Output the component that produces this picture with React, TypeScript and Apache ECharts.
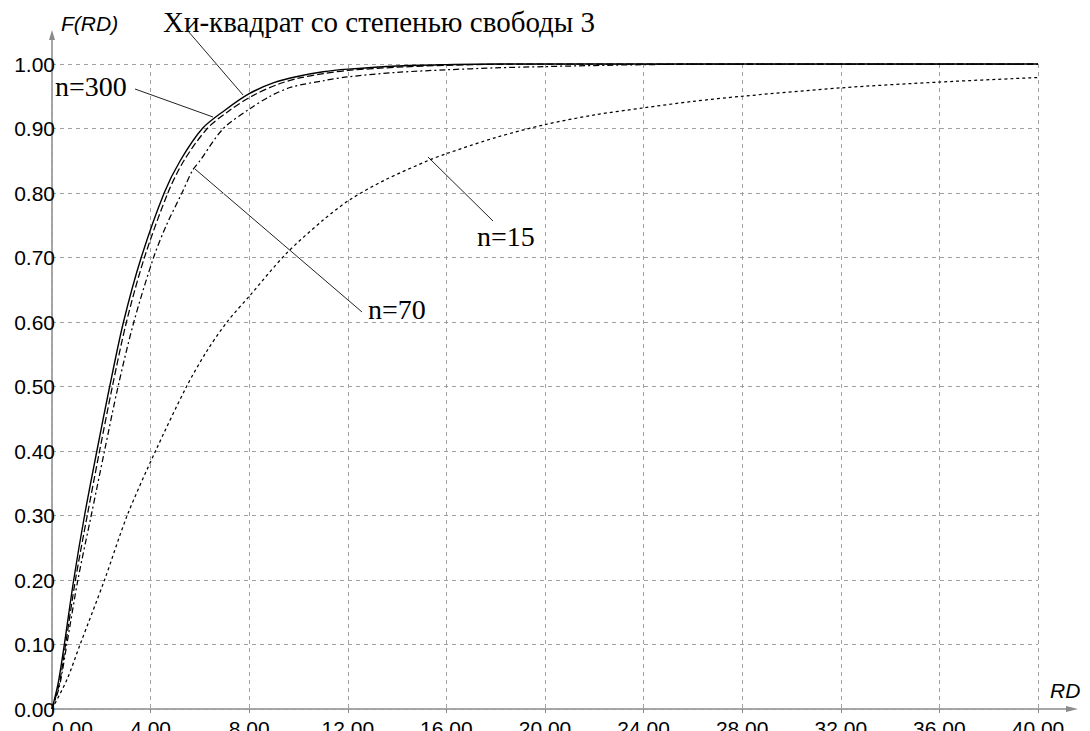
import React, { useEffect, useRef } from "react";
import * as echarts from "echarts";

// RD values and F(RD)
const chiSquare3: [number, number][] = [
  [0, 0], [0.25, 0.04], [0.5, 0.1], [0.88, 0.2], [1.32, 0.3], [1.82, 0.4], [2.34, 0.5],
  [2.9, 0.6], [3.62, 0.7], [4.55, 0.8], [5.2, 0.85], [6.1, 0.9], [7.0, 0.928], [8.0, 0.954],
  [9.0, 0.971], [10.0, 0.981], [11.0, 0.988], [12.0, 0.992], [14.0, 0.997], [16.0, 0.999],
  [18.0, 1.0], [40.0, 1.0],
];
const n300: [number, number][] = [
  [0, 0], [0.3, 0.04], [0.55, 0.1], [0.95, 0.2], [1.43, 0.3], [1.93, 0.4], [2.45, 0.5],
  [3.02, 0.6], [3.75, 0.7], [4.7, 0.8], [5.35, 0.85], [6.3, 0.9], [7.2, 0.928], [8.2, 0.952],
  [9.2, 0.969], [10.0, 0.978], [11.0, 0.985], [12.0, 0.99], [14.0, 0.995], [16.0, 0.998],
  [18.0, 0.9995], [20.0, 1.0], [40.0, 1.0],
];
const n70: [number, number][] = [
  [0, 0], [0.3, 0.035], [0.6, 0.1], [1.05, 0.2], [1.59, 0.3], [2.13, 0.4], [2.68, 0.5],
  [3.32, 0.6], [4.12, 0.7], [4.64, 0.75], [5.27, 0.8], [5.7, 0.835], [6.0, 0.85],
  [6.95, 0.9], [8.0, 0.93], [8.85, 0.95], [9.7, 0.964], [11.0, 0.974], [12.0, 0.98],
  [14.0, 0.987], [16.0, 0.991], [18.0, 0.994], [20.0, 0.996], [24.0, 0.999], [28.0, 1.0],
  [40.0, 1.0],
];
const n15: [number, number][] = [
  [0, 0], [0.6, 0.045], [1.14, 0.1], [2.13, 0.2], [3.05, 0.3], [4.2, 0.4], [5.46, 0.5],
  [6.25, 0.553], [7.1, 0.6], [8.05, 0.642], [9.5, 0.706], [11.0, 0.758], [12.1, 0.79],
  [13.5, 0.82], [15.3, 0.851], [16.0, 0.861], [18.0, 0.886], [20.0, 0.906], [22.0, 0.921],
  [24.0, 0.932], [26.0, 0.942], [28.0, 0.95], [32.0, 0.963], [36.0, 0.972], [40.0, 0.979],
];

const xMin = 0, xMax = 40, xStep = 4;
const yMin = 0, yMax = 1, yStep = 0.1;

const titleText = "Хи-квадрат со степенью свободы 3";
const yName = "F(RD)";
const xName = "RD";
const label300 = "n=300";
const label70 = "n=70";
const label15 = "n=15";

export default function App() {
  const ref = useRef<HTMLDivElement>(null);
  useEffect(() => {
    document.body.style.margin = "0";
    if (!ref.current) return;
    const chart = echarts.init(ref.current, undefined, { renderer: "svg" });
    const L = 52, T = 64, R = 1038, B = 709;
    const axisColor = "#8a8a8a";
    const serif = "'Liberation Serif', 'Times New Roman', serif";
    const sans = "'Liberation Sans', Arial, sans-serif";
    const black = "#000";
    const lineW = 1.25;
    const common = { type: "line", showSymbol: false, smooth: 0.3, clip: false };
    chart.setOption({
      animation: false,
      backgroundColor: "#fff",
      grid: {
        left: L, top: T, right: 1090 - R, bottom: 731 - B,
        containLabel: false, outerBoundsMode: "none",
      },
      xAxis: {
        type: "value", min: xMin, max: xMax, interval: xStep,
        axisLine: { show: false },
        axisTick: { show: true, length: 4, lineStyle: { color: axisColor } },
        axisLabel: {
          formatter: (v: number) => v.toFixed(2), fontSize: 21, fontFamily: sans,
          color: black, margin: 9, alignMinLabel: "left",
        },
        splitLine: { show: true, lineStyle: { color: "#a0a0a0", type: [4, 4], width: 1 } },
      },
      yAxis: {
        type: "value", min: yMin, max: yMax, interval: yStep,
        axisLine: { show: false },
        axisTick: { show: false },
        axisLabel: {
          formatter: (v: number) => v.toFixed(2), fontSize: 21, fontFamily: sans,
          color: black, margin: -3,
        },
        splitLine: { show: true, lineStyle: { color: "#a0a0a0", type: [4, 4], width: 1 } },
      },
      series: [
        { ...common, name: "chi", data: chiSquare3, lineStyle: { color: black, width: 1.4, type: "solid" } },
        { ...common, name: "n300", data: n300, lineStyle: { color: black, width: lineW, type: [7, 3] } },
        { ...common, name: "n70", data: n70, lineStyle: { color: black, width: lineW, type: [6, 3, 2, 3] } },
        { ...common, name: "n15", data: n15, lineStyle: { color: black, width: lineW, type: [3, 3] } },
      ],
      graphic: [
        { type: "line", shape: { x1: L, y1: B, x2: L, y2: 38 }, style: { stroke: axisColor, lineWidth: 1.5 } },
        { type: "polygon", shape: { points: [[L, 30], [L - 3, 40], [L + 3, 40]] }, style: { fill: axisColor } },
        { type: "line", shape: { x1: L, y1: B, x2: 1068, y2: B }, style: { stroke: axisColor, lineWidth: 1.5 } },
        { type: "polygon", shape: { points: [[1078, B], [1066, B - 3], [1066, B + 3]] }, style: { fill: axisColor } },
        { type: "text", x: 61, y: 23, style: { text: yName, font: `italic 21px ${sans}`, fill: black, textVerticalAlign: "middle" } },
        { type: "text", x: 1050, y: 690, style: { text: xName, font: `italic 21px ${sans}`, fill: black, textVerticalAlign: "middle" } },
        { type: "text", x: 163, y: 22, style: { text: titleText, font: `29px ${serif}`, fill: black, textVerticalAlign: "middle" } },
        { type: "line", shape: { x1: 188, y1: 31, x2: 243, y2: 95 }, style: { stroke: "#222", lineWidth: 1 } },
        { type: "text", x: 55, y: 86, style: { text: label300, font: `28px ${serif}`, fill: black, textVerticalAlign: "middle" } },
        { type: "line", shape: { x1: 135, y1: 89, x2: 213, y2: 117 }, style: { stroke: "#222", lineWidth: 1 } },
        { type: "text", x: 368, y: 309, style: { text: label70, font: `28px ${serif}`, fill: black, textVerticalAlign: "middle" } },
        { type: "line", shape: { x1: 195, y1: 169, x2: 362, y2: 312 }, style: { stroke: "#222", lineWidth: 1 } },
        { type: "text", x: 477, y: 236, style: { text: label15, font: `28px ${serif}`, fill: black, textVerticalAlign: "middle" } },
        { type: "line", shape: { x1: 428, y1: 157, x2: 493, y2: 221 }, style: { stroke: "#222", lineWidth: 1 } },
      ],
    });
    return () => chart.dispose();
  }, []);
  return <div ref={ref} style={{ width: 1090, height: 731 }} />;
}
